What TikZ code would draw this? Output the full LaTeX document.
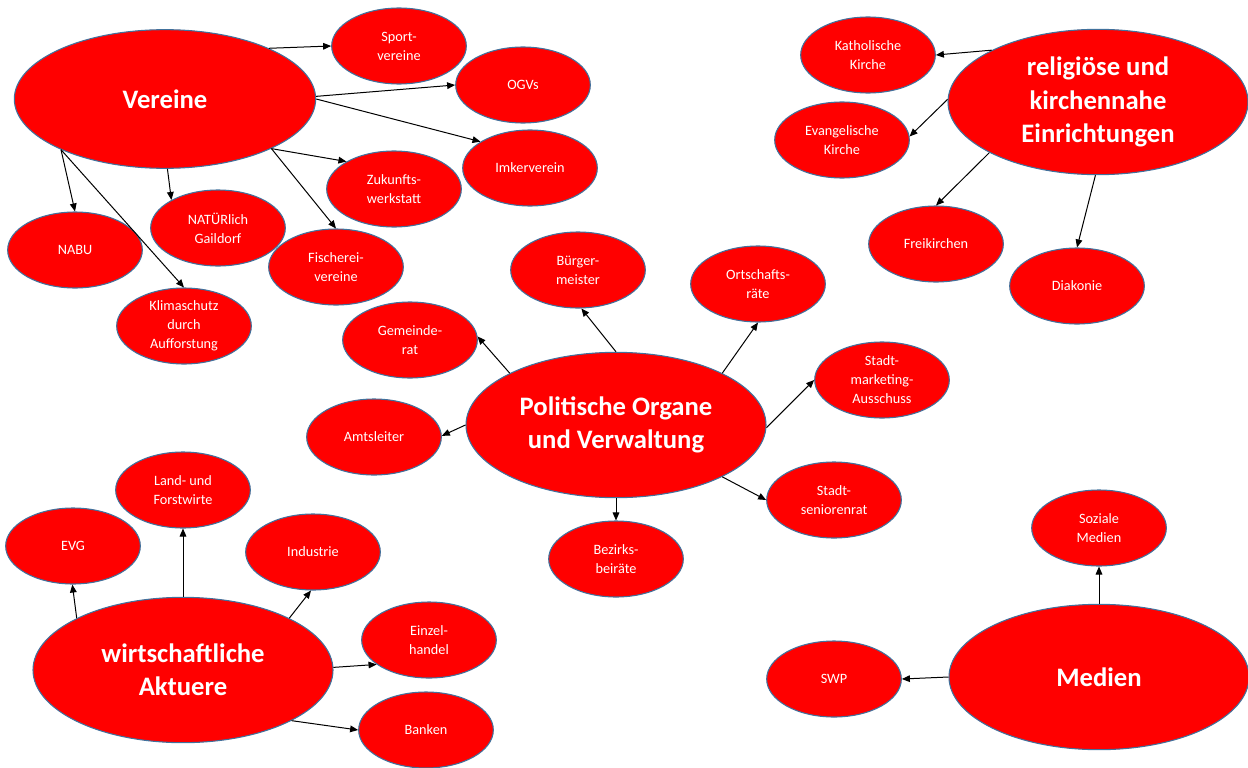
\documentclass[tikz,border=0pt]{standalone}
\usepackage{fontspec}
\setmainfont{Carlito}
\usetikzlibrary{shapes.geometric,arrows.meta}
\definecolor{nodered}{HTML}{FF0000}
\definecolor{edgeblue}{HTML}{41719C}
\tikzset{
  bubble/.style={ellipse, fill=nodered, draw=edgeblue, line width=0.8pt, inner sep=0pt,
    text=white, align=center, minimum width=101pt, minimum height=57pt,
    font=\fontsize{10.7}{14.2}\selectfont},
  hub/.style={bubble, minimum width=225pt, minimum height=109pt,
    font=\fontsize{20}{25}\selectfont\bfseries},
  link/.style={-{Triangle[length=6pt,width=5pt]}, line width=0.75pt, black}
}
\begin{document}
\begin{tikzpicture}[x=0.75pt,y=-0.75pt]
\useasboundingbox (0,0) rectangle (1248,767);
% Vereine
\node[hub, minimum width=226pt, minimum height=104pt] (V) at (165,99) {Vereine};
\node[bubble] (sport) at (399,46) {Sport-\\vereine};
\node[bubble] (ogv) at (523,85) {OGVs};
\node[bubble] (imker) at (530,168) {Imkerverein};
\node[bubble] (zuk) at (394,189) {Zukunfts-\\werkstatt};
\node[bubble] (nat) at (218,228) {NATÜRlich\\Gaildorf};
\node[bubble] (nabu) at (75,250) {NABU};
\node[bubble] (fisch) at (336,267) {Fischerei-\\vereine};
\node[bubble] (klima) at (184,326) {Klimaschutz\\durch\\Aufforstung};
% Politische
\node[hub] (P) at (616,425) {Politische Organe\\und Verwaltung};
\node[bubble] (gem) at (410,340) {Gemeinde-\\rat};
\node[bubble] (bue) at (578,270) {Bürger-\\meister};
\node[bubble] (ort) at (758,284) {Ortschafts-\\räte};
\node[bubble] (smk) at (882,380) {Stadt-\\marketing-\\Ausschuss};
\node[bubble] (amt) at (374,437) {Amtsleiter};
\node[bubble] (sen) at (834,500) {Stadt-\\seniorenrat};
\node[bubble] (bez) at (616,559) {Bezirks-\\beiräte};
% wirtschaftliche
\node[hub] (W) at (183,670) {wirtschaftliche\\Aktuere};
\node[bubble] (land) at (183,490) {Land- und\\Forstwirte};
\node[bubble] (evg) at (73,546) {EVG};
\node[bubble] (ind) at (313,552) {Industrie};
\node[bubble] (ein) at (429,640) {Einzel-\\handel};
\node[bubble] (bank) at (426,730) {Banken};
% religiöse
\node[hub] (R) at (1098,102) {religiöse und\\kirchennahe\\Einrichtungen};
\node[bubble] (kat) at (868,55) {Katholische\\Kirche};
\node[bubble] (evk) at (842,140) {Evangelische\\Kirche};
\node[bubble] (frei) at (936,244) {Freikirchen};
\node[bubble] (dia) at (1077,286) {Diakonie};
% Medien
\node[hub] (M) at (1099,677) {Medien};
\node[bubble] (soz) at (1099,528) {Soziale\\Medien};
\node[bubble] (swp) at (834,679) {SWP};
% connectors
\draw[link] (V.26) -- (sport.180);
\draw[link] (V.1) -- (ogv.180);
\draw[link] (V.0) -- (imker.152);
\draw[link] (V.-25) -- (zuk.150);
\draw[link] (V.-25) -- (fisch.90);
\draw[link] (V.-88) -- (nat.149);
\draw[link] (V.-154) -- (nabu.90);
\draw[link] (V.-154) -- (klima.90);
\draw[link] (P.90) -- (bue.-85);
\draw[link] (P.154) -- (gem.3);
\draw[link] (P.26) -- (ort.-90);
\draw[link] (P.-1) -- (smk.180);
\draw[link] (P.180) -- (amt.1);
\draw[link] (P.-26) -- (sen.180);
\draw[link] (P.-90) -- (bez.90);
\draw[link] (W.154) -- (evg.-91);
\draw[link] (W.90) -- (land.-90);
\draw[link] (W.26) -- (ind.-93);
\draw[link] (W.1) -- (ein.205);
\draw[link] (W.-25) -- (bank.180);
\draw[link] (R.154) -- (kat.0);
\draw[link] (R.179) -- (evk.3);
\draw[link] (R.205) -- (frei.90);
\draw[link] (R.-92) -- (dia.90);
\draw[link] (M.90) -- (soz.-90);
\draw[link] (M.180) -- (swp.0);
\end{tikzpicture}
\end{document}
